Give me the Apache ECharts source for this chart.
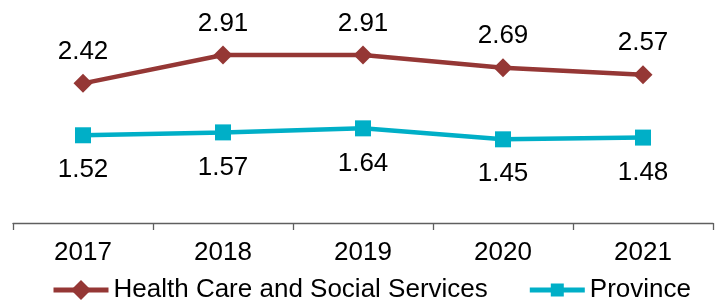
<!DOCTYPE html>
<html><head><meta charset="utf-8">
<script src="https://cdn.jsdelivr.net/npm/echarts@6/dist/echarts.min.js"></script>
<style>html,body{margin:0;padding:0;background:#fff}#c{width:722px;height:303px}</style>
</head><body><div id="c"></div>
<script>
const categories = ['2017','2018','2019','2020','2021'];
const healthCare = [2.42, 2.91, 2.91, 2.69, 2.57];
const province = [1.52, 1.57, 1.64, 1.45, 1.48];
const seriesNames = ['Health Care and Social Services','Province'];

const font = '"Liberation Sans", Arial, sans-serif';
const provinceIcon = 'path://M27 0L27.02 0L27 0.02Z M27 25L27.02 25L27 24.98Z M0 10H55V15H0Z M21 6H34V19H21Z';
const chart = echarts.init(document.getElementById('c'), null, {renderer:'canvas'});
chart.setOption({
  animation:false,
  backgroundColor:'#fff',
  grid:{left:13, right:9, top:21, bottom:80},
  legend:{
    left:46, top:272, itemWidth:55, itemHeight:25, itemGap:42,
    lineStyle:{width:5},
    textStyle:{fontFamily:font, fontSize:26, color:'#000'},
    data:[
      {name:seriesNames[0]},
      {name:seriesNames[1], icon:provinceIcon, itemStyle:{color:'#00AFC7', borderWidth:0}}
    ]
  },
  xAxis:{
    type:'category', data:categories, boundaryGap:true,
    axisLine:{lineStyle:{color:'#5f5f5f', width:1.3}},
    axisTick:{show:true, length:7, inside:false, lineStyle:{color:'#5f5f5f', width:1.3}},
    axisLabel:{fontFamily:font, fontSize:26, color:'#000', margin:17}
  },
  yAxis:{type:'value', min:0, max:3.5, show:false, splitLine:{show:false}},
  series:[
    {name:seriesNames[0], type:'line', data:healthCare, symbol:'diamond', symbolSize:19,
     itemStyle:{color:'#953735'}, lineStyle:{color:'#953735', width:4.5},
     label:{show:true, position:'top', distance:9, fontFamily:font, fontSize:26, color:'#000', formatter:p=>p.value.toFixed(2)}},
    {name:seriesNames[1], type:'line', data:province, symbol:'rect', symbolSize:16,
     itemStyle:{color:'#00AFC7'}, lineStyle:{color:'#00AFC7', width:4.5},
     label:{show:true, position:'bottom', distance:14, fontFamily:font, fontSize:26, color:'#000', formatter:p=>p.value.toFixed(2)}}
  ]
});
</script></body></html>
